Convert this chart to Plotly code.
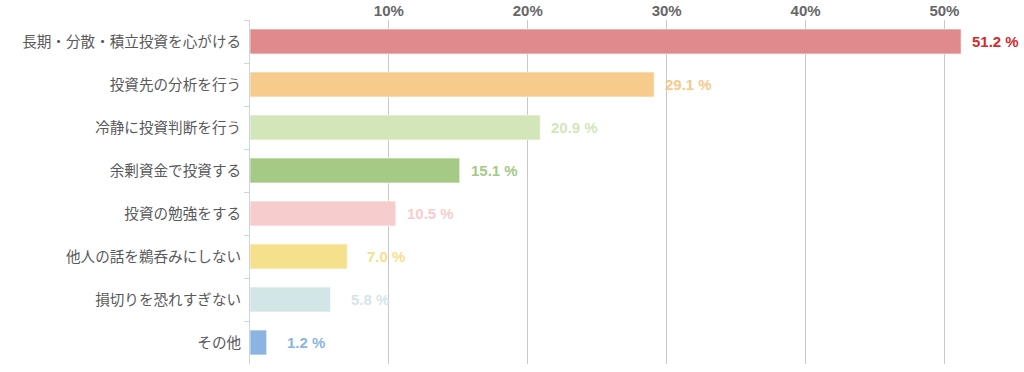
import plotly.graph_objects as go

categories = ["長期・分散・積立投資を心がける", "投資先の分析を行う", "冷静に投資判断を行う",
              "余剰資金で投資する", "投資の勉強をする", "他人の話を鵜呑みにしない",
              "損切りを恐れすぎない", "その他"]
values = [51.2, 29.1, 20.9, 15.1, 10.5, 7.0, 5.8, 1.2]
bar_colors = ["#e08a8b", "#f7cb8b", "#d3e6b9", "#a4ca86", "#f7cccc", "#f5e08b", "#d3e6e7", "#8cb4e2"]
label_colors = ["#d42b2b", "#f7c98a", "#d3e6b9", "#a4ca86", "#f7cccc", "#f5e08b", "#d3e6e7", "#8cb4e2"]
tick_vals = [10, 20, 30, 40, 50]
tick_text = ["10%", "20%", "30%", "40%", "50%"]

fig = go.Figure()
fig.add_trace(go.Bar(
    y=categories, x=values, orientation="h",
    marker=dict(color=bar_colors, line=dict(color="rgba(255,255,255,0.6)", width=1)),
    width=0.58, hoverinfo="skip",
))

for c, v, col in zip(categories, values, label_colors):
    fig.add_annotation(
        x=v, y=c, text=f"<b>{v:.1f} %</b>", showarrow=False,
        xanchor="left", xshift=18 if v < 8 else 9,
        font=dict(size=15, color=col, family="Liberation Sans, Arial, sans-serif"),
    )

fig.update_layout(
    width=1024, height=372,
    margin=dict(l=250, r=24, t=20, b=8),
    paper_bgcolor="white", plot_bgcolor="white",
    showlegend=False,
    font=dict(family="Noto Sans CJK JP, sans-serif", color="#555555", size=15),
    xaxis=dict(
        side="top", range=[0, 54], tickvals=tick_vals, ticktext=tick_text,
        showgrid=True, gridcolor="#c8c8c8", gridwidth=1,
        zeroline=False, showline=False, ticks="", automargin=False,
        tickfont=dict(family="Liberation Sans, Arial, sans-serif", size=15, color="#666666", weight="bold"),
        fixedrange=True,
    ),
    yaxis=dict(
        categoryorder="array", categoryarray=categories, autorange="reversed",
        showline=True, linecolor="#c9d5e8", linewidth=1,
        ticks="outside", ticklen=5, tickcolor="#c9d5e8", tickson="boundaries",
        ticklabelstandoff=5,
        showgrid=False, zeroline=False, automargin=False,
        tickfont=dict(size=14.6, color="#595959"),
        fixedrange=True,
    ),
)

fig.write_html("out.html", config={"displayModeBar": False},
               post_script="document.body.style.margin='0';")
